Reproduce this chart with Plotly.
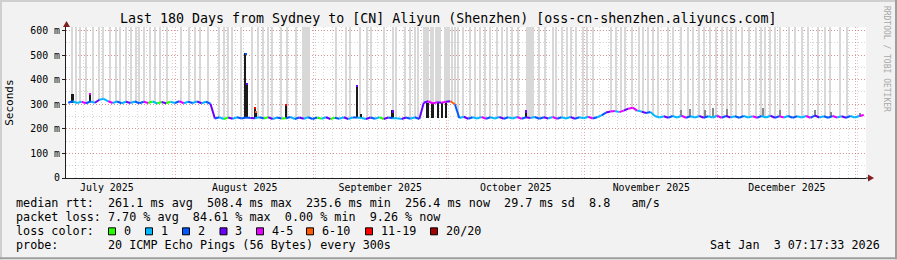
import plotly.graph_objects as go
import pandas as pd

START = pd.Timestamp("2025-07-07 07:17:33")
END = pd.Timestamp("2026-01-03 07:17:33")

# daily median rtt (ms), one value per day from START
median_ms = [
    306, 312, 305, 310, 304, 311, 306, 318, 322, 312,
    305, 311, 304, 310, 305, 311, 304, 310, 305, 311,
    303, 309, 304, 310, 305, 312, 304, 310, 305, 311,
    304, 310, 302,
    242, 247, 240, 246, 241, 247, 242, 246, 244, 243,
    247, 242, 247, 240, 246, 242, 243, 248, 240, 246,
    241, 247, 240, 246, 241, 247, 240, 245, 241, 247,
    240, 246, 246, 244, 240, 246, 241, 247, 240, 246,
    243, 243, 240, 246, 241, 247, 240,
    306, 312, 303, 308, 306, 310, 312, 300,
    244, 249, 241, 247, 242, 248, 241, 247, 242, 248,
    241, 247, 242, 248, 241, 247, 244, 248, 241, 247,
    242, 248, 241, 247, 242, 248, 241, 247, 243, 249,
    242, 247,
    255, 266, 270, 272, 268, 274, 282, 286, 274, 270,
    264, 268, 252,
    246, 251, 245, 252, 246, 253, 245, 251, 246, 252,
    245, 251, 246, 253, 245, 252, 246, 251, 245, 252,
    246, 251, 245, 252, 246, 253, 245, 251, 246, 252,
    245, 251, 246, 252, 245, 254, 246, 251, 245, 252,
    246, 251, 245, 252, 246, 252, 256,
]

# loss colour class per day: 0:'0' 1:'1' 2:'2' 3:'3' 4:'4-5' 5:'6-10' 6:'11-19' 7:'20/20'
loss_class = [
    2, 1, 1, 4, 2, 1, 3, 1, 1, 4, 1, 2, 1, 3, 1, 2, 2, 4, 0, 1,
    0, 3, 0, 1, 2, 4, 1, 2, 1, 3, 1, 2, 3,
    2, 1, 0, 3, 1, 2, 2, 2, 3, 1, 2, 0, 3, 1, 2, 0, 2, 1,
    2, 3, 1, 2, 2, 0, 1, 3, 0, 2, 1, 3, 1, 2, 1,
    1, 3, 2, 1, 0, 3, 2, 1, 1, 3, 2, 1, 2, 3,
    3, 4, 4, 3, 4, 3, 5, 2,
    1, 3, 2, 1, 1, 4, 2, 1, 1, 3, 2, 1, 1, 4, 2, 3,
    1, 2, 2, 3, 1, 4, 2, 1, 1, 3, 2, 1, 1, 4, 2, 1,
    2, 3, 4, 1, 4, 3, 4, 4, 1, 3, 2, 1, 1,
    1, 3, 2, 1, 1, 4, 2, 1, 1, 3, 2, 1, 1, 4, 2, 3, 1, 2, 2, 1,
    1, 4, 2, 1, 1, 3, 2, 4, 1, 2, 2, 1, 1, 4, 2, 3, 1, 2, 2, 4,
    1, 3, 2, 1, 1, 4, 3,
]

loss_labels = ["0", "1", "2", "3", "4-5", "6-10", "11-19", "20/20"]
loss_colors = ["#26ff00", "#00b8ff", "#0059ff", "#6a00ff", "#e600ff",
               "#ff5a00", "#ff0000", "#a00000"]

# light smoke reaching above the chart (days since START)
smoke_day = [
    1.35, 2.25, 3.15, 4.5, 6.08, 7.43, 8.33, 9.9, 11.25, 12.15, 13.5, 14.63,
    15.75, 16.43, 17.55, 18.9, 20.03, 21.15, 22.73, 25.88, 27.68, 29.03,
    30.15, 31.95, 34.43, 35.55, 36.45, 37.35, 39.38, 41.85, 43.2, 44.33,
    45.45, 46.35, 48.38, 49.73, 51.75, 53.33, 53.78, 54.23, 54.68, 60.75,
    63.0, 63.9, 66.15, 67.73, 68.63, 71.55, 73.58, 74.25, 76.28, 77.4,
    78.53, 79.2, 80.55, 81.0, 81.45, 82.13, 82.58, 83.25, 83.7, 84.15,
    85.28, 85.73, 86.18, 86.85, 87.53, 88.2, 89.33, 90.9, 92.03, 93.15,
    94.28, 95.4, 96.98, 98.1, 99.23, 100.35, 101.7, 103.73, 104.18, 104.63,
    105.08, 106.43, 107.78, 109.58, 110.25, 111.6, 112.73, 113.63, 114.75,
    116.33, 117.23, 118.58, 122.63, 123.75, 124.88, 125.78, 127.35, 128.93,
    129.83, 130.95, 132.08, 133.2, 135.45, 136.58, 138.38, 139.95, 141.08,
    142.43, 143.55, 144.9, 146.25, 147.6, 148.73, 149.63, 150.75, 152.1,
    153.68, 155.25, 156.38, 157.28, 158.4, 159.53, 160.65, 162.68, 164.03,
    165.6, 166.95, 169.2, 170.78, 171.9, 174.15, 175.73,
]
smoke_top_ms = 700

# darker smoke spikes: day, low, high (ms), loss class at the tip (-1 none)
spike_day = [1.5, 5.5, 40.4, 40.75, 42.5, 42.8, 49.5, 65.5, 66.5, 73.5, 81.4, 82.5,
             83.7, 84.6, 85.5, 103.5,
             138.5, 140.5, 143.8, 145.6, 148.7, 156.8, 160.7, 168.5, 172.1, 178.7]
spike_lo = [306, 311, 242, 242, 244, 244, 243, 246, 242, 243, 245, 245,
            245, 245, 245, 247,
            248, 248, 248, 248, 248, 248, 248, 248, 248, 250]
spike_hi = [342, 347, 510, 388, 290, 272, 300, 380, 262, 275, 305, 305,
            305, 305, 305, 275,
            276, 279, 278, 285, 281, 283, 278, 276, 268, 265]
spike_dark = [1] * 16 + [0] * 10
spike_tip = [-1, 4, 2, 3, 6, 5, 6, 3, -1, 3, -1, -1,
             -1, -1, -1, 3,
             -1, -1, -1, -1, -1, -1, -1, -1, -1, -1]

DAY_MS = 86400000
fig = go.Figure()

def tday(d):
    return START + pd.Timedelta(days=d)

# light smoke
sx = [tday(d) for d in smoke_day]
sb = [median_ms[min(int(d), len(median_ms) - 1)] for d in smoke_day]
fig.add_trace(go.Bar(x=sx, base=sb, y=[smoke_top_ms - b for b in sb],
                     width=0.32 * DAY_MS, marker=dict(color="#d8d8d8", line_width=0),
                     hoverinfo="skip", showlegend=False))
# dark spikes
for shade, col in [(1, "#1a1a1a"), (0, "#8a8a8a")]:
    idx = [k for k in range(len(spike_day)) if spike_dark[k] == shade]
    fig.add_trace(go.Bar(x=[tday(spike_day[k]) for k in idx],
                         base=[spike_lo[k] for k in idx],
                         y=[spike_hi[k] - spike_lo[k] for k in idx],
                         width=0.4 * DAY_MS, marker=dict(color=col, line_width=0),
                         hoverinfo="skip", showlegend=False))
# coloured tips of spikes
tip_idx = [k for k in range(len(spike_day)) if spike_tip[k] >= 0]
fig.add_trace(go.Bar(x=[tday(spike_day[k]) for k in tip_idx],
                     base=[spike_hi[k] - 9 for k in tip_idx],
                     y=[9 for k in tip_idx],
                     width=0.45 * DAY_MS,
                     marker=dict(color=[loss_colors[spike_tip[k]] for k in tip_idx], line_width=0),
                     hoverinfo="skip", showlegend=False))

# median line, coloured by loss
px_ = [tday(i + 0.5) for i in range(len(median_ms))]
for c in range(len(loss_colors)):
    xs, ys = [], []
    for i in range(len(median_ms) - 1):
        if loss_class[i] == c:
            xs += [px_[i], px_[i + 1], None]
            ys += [median_ms[i], median_ms[i + 1], None]
    if xs:
        fig.add_trace(go.Scatter(x=xs, y=ys, mode="lines",
                                 line=dict(color=loss_colors[c], width=2),
                                 hoverinfo="skip", showlegend=False))

W, H = 897, 260
L, R, T, B = 66, 31, 27, 81.5
PW, PH = W - L - R, H - T - B

def pxx(x):
    return (x - L) / PW

def pxy(y):
    return (H - B - y) / PH

MONO = "DejaVu Sans Mono"
NB = "\u00a0"

def nb(s):
    return s.replace(" ", NB)

ann = []
def text(x, y, s, size, xanchor="left", angle=0, color="#000000"):
    ann.append(dict(x=pxx(x), y=pxy(y), xref="paper", yref="paper", text=nb(s),
                    showarrow=False, xanchor=xanchor, yanchor="middle",
                    textangle=angle, borderpad=0,
                    font=dict(family=MONO, size=size, color=color)))

text(447.5, 18.5, "Last 180 Days from Sydney to [CN] Aliyun (Shenzhen) [oss-cn-shenzhen.aliyuncs.com]", 13.3, "center")
text(10, 103, "Seconds", 11, "center", -90)
text(886, 59, "RRDTOOL / TOBI OETIKER", 8, "center", 90, "#a8a8a8")
text(15, 204, "median rtt:  261.1 ms avg  508.4 ms max  235.6 ms min  256.4 ms now  29.7 ms sd  8.8   am/s", 11.75)
text(15, 218, "packet loss: 7.70 % avg  84.61 % max  0.00 % min  9.26 % now", 11.75)
text(15, 232, "loss color:", 11.75)
text(15, 246, "probe:       20 ICMP Echo Pings (56 Bytes) every 300s", 11.75)
text(881, 246, "Sat Jan  3 07:17:33 2026", 11.75, "right")

box_x = [108.5, 145.5, 182.5, 220, 256.5, 306.5, 365.5, 430.5]
shapes = []
for k, lab in enumerate(loss_labels):
    bx = box_x[k]
    shapes.append(dict(type="rect", xref="paper", yref="paper",
                       x0=pxx(bx), x1=pxx(bx + 7), y0=pxy(235.5), y1=pxy(228.5),
                       fillcolor=loss_colors[k], line=dict(color="#000000", width=1)))
    text(bx + 14, 232, lab, 11.75)

# frame
shapes += [
    dict(type="rect", xref="paper", yref="paper", x0=pxx(0), x1=pxx(W), y0=pxy(0), y1=pxy(2),
         fillcolor="#cfcfcf", line_width=0, layer="below"),
    dict(type="rect", xref="paper", yref="paper", x0=pxx(0), x1=pxx(2), y0=pxy(0), y1=pxy(H),
         fillcolor="#cfcfcf", line_width=0, layer="below"),
    dict(type="rect", xref="paper", yref="paper", x0=pxx(0), x1=pxx(W), y0=pxy(H - 2), y1=pxy(H),
         fillcolor="#9e9e9e", line_width=0, layer="below"),
    dict(type="rect", xref="paper", yref="paper", x0=pxx(W - 2), x1=pxx(W), y0=pxy(0), y1=pxy(H),
         fillcolor="#9e9e9e", line_width=0, layer="below"),
]
# axis extension and arrows
shapes += [
    dict(type="line", xref="paper", yref="paper", x0=1, x1=pxx(L + PW + 3), y0=0, y1=0,
         line=dict(color="#1f1f1f", width=1)),
    dict(type="path", xref="paper", yref="paper", xsizemode="pixel", ysizemode="pixel",
         xanchor=pxx(L + PW + 2), yanchor=0, path="M 0,-3.5 L 6,0 L 0,3.5 Z",
         fillcolor="#801f1f", line_width=0),
    dict(type="path", xref="paper", yref="paper", xsizemode="pixel", ysizemode="pixel",
         xanchor=pxx(L + 0.5), yanchor=1, path="M -3.5,0 L 3.5,0 L 0,6 Z",
         fillcolor="#801f1f", line_width=0),
]

GRID = "rgba(160,160,160,0.42)"
MGRID = "rgba(222,79,79,0.5)"
DASH = "1px,2px"

fig.update_layout(
    width=W, height=H, margin=dict(l=L, r=R, t=T, b=B, pad=0),
    paper_bgcolor="#f2f2f2", plot_bgcolor="#ffffff",
    barmode="overlay", bargap=0, showlegend=False,
    annotations=ann, shapes=shapes,
    xaxis=dict(type="date", range=[START, END], dtick="M1", tick0="2025-07-01",
               tickformat="%B %Y", ticklabelmode="period",
               showgrid=True, gridcolor=MGRID, griddash=DASH, gridwidth=1,
               ticks="", showline=True, linecolor="#1f1f1f", linewidth=1,
               zeroline=False,
               tickfont=dict(family=MONO, size=9.9, color="#000000"),
               minor=dict(dtick=2 * DAY_MS, tick0="2025-07-31 08:00", showgrid=True,
                          gridcolor=GRID, griddash=DASH, gridwidth=1)),
    yaxis=dict(range=[0, 614], tickvals=[0, 100, 200, 300, 400, 500, 600],
               ticktext=["0", "100 m", "200 m", "300 m", "400 m", "500 m", "600 m"],
               showgrid=True, gridcolor=MGRID, griddash=DASH, gridwidth=1,
               ticks="outside", ticklen=3, tickcolor="#1f1f1f",
               showline=True, linecolor="#1f1f1f", linewidth=1, zeroline=False,
               tickfont=dict(family=MONO, size=9.9, color="#000000"),
               minor=dict(dtick=50, tick0=0, showgrid=True, gridcolor=GRID,
                          griddash=DASH, gridwidth=1)),
)

fig.write_html("out.html")
